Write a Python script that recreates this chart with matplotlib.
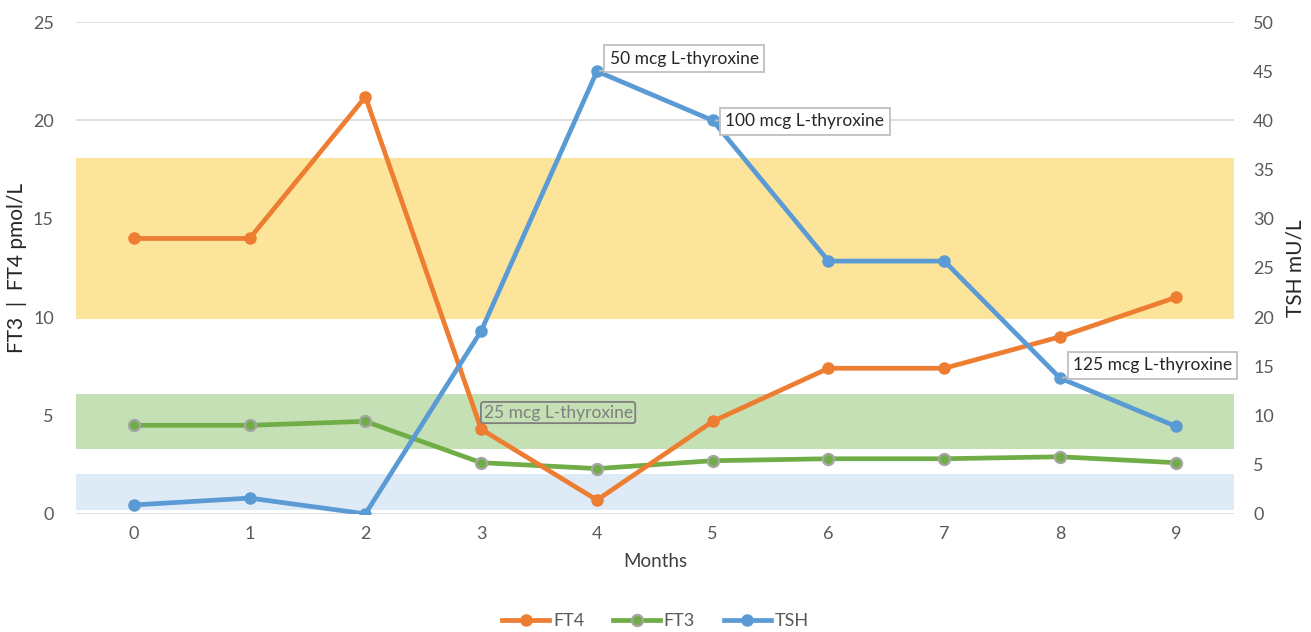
import matplotlib
matplotlib.use("Agg")
import matplotlib.pyplot as plt
from matplotlib.lines import Line2D

plt.rcParams["font.family"] = ["Lato", "DejaVu Sans"]

months = [0, 1, 2, 3, 4, 5, 6, 7, 8, 9]
ft4 = [14.0, 14.0, 21.2, 4.3, 0.7, 4.7, 7.4, 7.4, 9.0, 11.0]
ft3 = [4.5, 4.5, 4.7, 2.6, 2.3, 2.7, 2.8, 2.8, 2.9, 2.6]
tsh = [0.9, 1.6, 0.0, 18.6, 45.0, 40.0, 25.7, 25.7, 13.8, 8.9]

# reference ranges, drawn on the left (pmol/L) axis
ft4_range = (9.9, 18.1)
ft3_range = (3.3, 6.1)
tsh_range = (0.2, 2.0)

doses = ["25 mcg L-thyroxine", "50 mcg L-thyroxine",
         "100 mcg L-thyroxine", "125 mcg L-thyroxine"]
dose_months = [3, 4, 5, 8]

C_FT4 = "#ED7D31"
C_FT3 = "#70AD47"
C_TSH = "#5B9BD5"
GREY = "#595959"

fig = plt.figure(figsize=(13.11, 6.32), dpi=100)
ax = fig.add_axes([0.058, 0.187, 0.883, 0.778])
ax2 = ax.twinx()

ax.set_xlim(-0.5, 9.5)
ax.set_ylim(0, 25)
ax2.set_ylim(0, 50)

for y in range(0, 26, 5):
    ax.axhline(y, color="#d9d9d9", lw=1.2, zorder=0)

ax.axhspan(*ft4_range, color="#FDE49B", lw=0, zorder=1)
ax.axhspan(*ft3_range, color="#C5E0B4", lw=0, zorder=1)
ax.axhspan(*tsh_range, color="#DEEBF7", lw=0, zorder=1)

LW, MS = 3.4, 8
ax.plot(months, ft3, color=C_FT3, lw=LW, marker="o", ms=MS,
        mfc=C_FT3, mec="#A5A5A5", mew=1.6, zorder=3)
ax.plot(months, ft4, color=C_FT4, lw=LW, marker="o", ms=MS,
        mfc=C_FT4, mec=C_FT4, zorder=4)
ax2.plot(months, tsh, color=C_TSH, lw=LW, marker="o", ms=MS,
         mfc=C_TSH, mec=C_TSH, zorder=3)

for s in ("top", "left", "right", "bottom"):
    ax.spines[s].set_visible(False)
    ax2.spines[s].set_visible(False)

ax.set_xticks(months)
ax.set_yticks(range(0, 26, 5))
ax2.set_yticks(range(0, 51, 5))
ax.tick_params(length=0, labelsize=13, labelcolor=GREY, pad=9)
ax2.tick_params(length=0, labelsize=13, labelcolor=GREY, pad=14)
ax.tick_params(axis="y", pad=16)

ax.set_xlabel("Months", fontsize=13.5, color="#404040", labelpad=8)
ax.set_ylabel("FT3  |  FT4 pmol/L", fontsize=15, color="#262626", labelpad=4)
ax2.set_ylabel("TSH mU/L", fontsize=15, color="#262626", labelpad=8)

# dose callouts: (x offset in months, y position on TSH axis)
label_pos = [(0.02, 10.3), (0.11, 46.3), (0.11, 39.9), (0.11, 15.1)]
for (dx, ly), m, label in zip(label_pos, dose_months, doses):
    i = months.index(m)
    if m == 3:
        ax2.annotate(label, (m, tsh[i]), xytext=(m + dx, ly),
                     fontsize=12.5, color="#7f7f7f", va="center", ha="left",
                     bbox=dict(boxstyle="round,pad=0.15", fc="none",
                               ec="#7f7f7f", lw=1.3), zorder=6)
        continue
    ax2.annotate(label, (m, tsh[i]), xytext=(m + dx, ly),
                 fontsize=12.5, color="#262626", va="center", ha="left",
                 bbox=dict(boxstyle="square,pad=0.3", fc="white",
                           ec="#bfbfbf", lw=1.3),
                 arrowprops=dict(arrowstyle="-", color="#bfbfbf", lw=1.3,
                                 shrinkA=0, shrinkB=2),
                 zorder=6)

handles = [
    Line2D([], [], color=C_FT4, lw=LW, marker="o", ms=MS, mec=C_FT4),
    Line2D([], [], color=C_FT3, lw=LW, marker="o", ms=MS, mec="#A5A5A5", mew=1.6),
    Line2D([], [], color=C_TSH, lw=LW, marker="o", ms=MS, mec=C_TSH),
]
fig.legend(handles, ["FT4", "FT3", "TSH"], loc="center",
           bbox_to_anchor=(0.5, 0.017), ncol=3, frameon=False,
           fontsize=13, labelcolor=GREY, handlelength=2.6,
           handletextpad=0.2, columnspacing=1.6)

fig.savefig("out.png", dpi=100, facecolor="white")
